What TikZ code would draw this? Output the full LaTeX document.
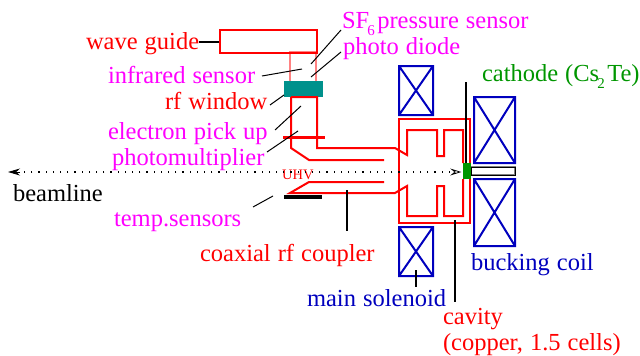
\documentclass[tikz,border=0pt]{standalone}
\usepackage{fontspec}
\setmainfont[WordSpace=1.15]{Liberation Serif}
\usetikzlibrary{arrows.meta}
\definecolor{tealbox}{RGB}{0,145,140}
\definecolor{coilblue}{RGB}{0,0,190}
\definecolor{catgreen}{RGB}{0,150,0}
\definecolor{softred}{RGB}{255,130,130}
\definecolor{pureRed}{RGB}{255,0,0}
\definecolor{pureMag}{RGB}{255,0,255}
\newcommand{\lowsub}[1]{\kern-2pt\raisebox{-7pt}{\fontsize{15}{16}\selectfont #1}\kern2.5pt}
\tikzset{
  x=1pt,y=-1pt,
  lab/.style={anchor=base west,inner sep=0pt,outer sep=0pt,yshift=-0.7pt,font=\fontsize{24.5}{26}\selectfont},
  redline/.style={draw=pureRed,line width=2pt,line join=miter},
  thinred/.style={draw=softred,line width=2pt},
  coil/.style={draw=coilblue,line width=2pt},
  leader/.style={draw=black,line width=1pt},
  heavy/.style={draw=black,line width=2pt},
}
\newcommand{\coilbox}[4]{%
  \draw[coil] (#1,#2) rectangle (#3,#4) (#1,#2) -- (#3,#4) (#3,#2) -- (#1,#4);}
\begin{document}
\begin{tikzpicture}
\useasboundingbox (0,0) rectangle (640,356);
% labels
\node[lab,pureRed] (lwg) at (86,49) {wave guide};
\node[lab,pureMag] (lse) at (342,28) {SF\lowsub{6} pressure sensor};
\node[lab,pureMag] (lpd) at (343,54) {photo diode};
\node[lab,pureMag] (lir) at (108,83) {infrared sensor};
\node[lab,pureRed] (lrf) at (165,109) {rf window};
\node[lab,pureMag] (lep) at (108,139) {electron pick up};
\node[lab,pureMag] (lpm) at (112,165) {photomultiplier};
\node[lab,black] (lbl) at (13,201) {beamline};
\node[lab,pureMag] (lts) at (114,226) {temp.sensors};
\node[lab,pureRed] (lcx) at (200,261) {coaxial rf coupler};
\node[lab,coilblue] (lms) at (307,306) {main solenoid};
\node[lab,pureRed] (lcv) at (443,324) {cavity};
\node[lab,pureRed] (lcu) at (443,350) {(copper, 1.5 cells)};
\node[lab,coilblue] (lbc) at (471,270) {bucking coil};
\node[lab,catgreen] (lca) at (482,81) {cathode (Cs\lowsub{2}Te)};
\node[anchor=base west,inner sep=0pt,pureRed,font=\fontsize{14.5}{16}\selectfont] (luhv) at (282,179) {UHV};
% thin tube
\draw[thinred] (290,52) rectangle (316,82);
% waveguide
\node[draw=pureRed,line width=2pt,minimum width=97pt,minimum height=23pt,inner sep=0pt,anchor=north west] (wg) at (219,29) {};
% teal window
\node[fill=tealbox,minimum width=39pt,minimum height=16pt,inner sep=0pt,anchor=north west] (win) at (284,81) {};
% coupler
\draw[redline] (291,97) -- (291,148) -- (309,160) -- (384,160);
\draw[redline] (291,97) -- (317,97) -- (317,148) -- (395,148) -- (407,155) -- (407,130) -- (437,130) -- (437,156) -- (444,156) -- (444,130) -- (463,130) -- (463,163);
\draw[redline] (463,179) -- (463,216) -- (444,216) -- (444,186) -- (437,186) -- (437,216) -- (407,216) -- (407,186) -- (395,193) -- (290,193) -- (309,182) -- (384,182);
% cavity
\draw[redline] (399,119) rectangle (470,223);
\draw[pureRed,line width=3pt] (283,137) -- (325,137);
\draw[black,line width=4pt] (284,197) -- (322,197);
% coils
\coilbox{399}{66}{433}{115}
\coilbox{399}{227}{433}{276}
\coilbox{474}{97}{515}{163}
\coilbox{474}{179}{515}{246}
% rod, cathode
\draw[draw=gray,line width=1.5pt] (471,167) rectangle (515,175);
\draw[draw=black,line width=0.8pt] (471,167) rectangle (515,175);
\coordinate (ct) at (466,82);
\node[fill=catgreen,minimum width=8pt,minimum height=16pt,inner sep=0pt,anchor=north west] (cat) at (463,163) {};
\draw[heavy] (ct) -- (cat.north -| ct);
% beamline
\coordinate (br) at (450,172);
\coordinate (bl) at (8,172);
\draw[black,line width=1.2pt,dash pattern=on 1.2pt off 6pt] (br) -- (20,172);
\draw[black,-{Stealth[length=12pt,width=7pt]},line width=0.9pt] (20,172) -- (bl);
\draw[black,line width=0.8pt,fill=white] (452,169.5) -- (460,172) -- (452,174.5) -- (455,172) -- cycle;
% leaders
\coordinate (a1) at (311,64); \coordinate (a2) at (341,30);
\coordinate (b1) at (311,77); \coordinate (b2) at (341,52);
\coordinate (c1) at (262,76); \coordinate (c2) at (302,69);
\coordinate (d1) at (270,105); \coordinate (d2) at (284,95);
\coordinate (e1) at (275,130); \coordinate (e2) at (301,106);
\coordinate (f1) at (267,152); \coordinate (f2) at (298,131);
\coordinate (g1) at (253,207); \coordinate (g2) at (273,196);
\coordinate (h1) at (347,190); \coordinate (h2) at (347,231);
\coordinate (i1) at (416,270); \coordinate (i2) at (416,287);
\coordinate (j1) at (455,220); \coordinate (j2) at (455,302);
\draw[heavy] (lwg.base east |- wg.west) -- (wg.west);
\foreach \p in {a,b,c,d,e,f,g} \draw[leader] (\p1) -- (\p2);
\foreach \p in {h,i,j} \draw[heavy] (\p1) -- (\p2);
\end{tikzpicture}
\end{document}
